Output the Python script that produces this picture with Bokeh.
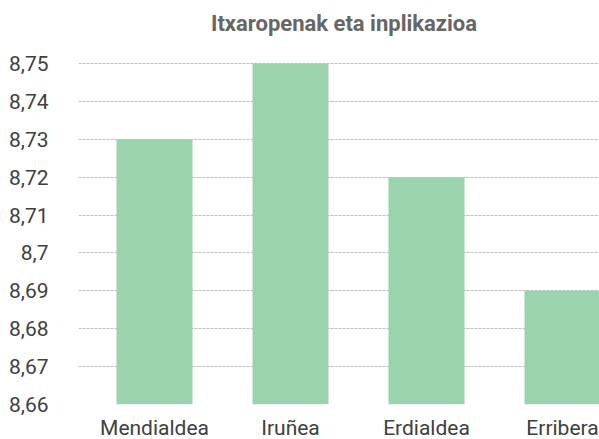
from bokeh.plotting import figure
from bokeh.models import Range1d, FixedTicker, CustomJSTickFormatter, Label
from bokeh.embed import file_html
from bokeh.resources import INLINE

title = "Itxaropenak eta inplikazioa"
categories = ["Mendialdea", "Iruñea", "Erdialdea", "Erribera"]
values = [8.73, 8.75, 8.72, 8.69]
y_ticks = [8.66, 8.67, 8.68, 8.69, 8.70, 8.71, 8.72, 8.73, 8.74, 8.75]
y_labels = ["8,66", "8,67", "8,68", "8,69", "8,7", "8,71", "8,72", "8,73", "8,74", "8,75"]

FONT = "Roboto"
positions = list(range(len(categories)))

# frame spans the whole top area so the title can sit inside it;
# 8.75 lands 63px below the top, 8.66 at the frame bottom
FRAME_H = 404
y_end = y_ticks[0] + (y_ticks[-1] - y_ticks[0]) * FRAME_H / (FRAME_H - 63)

p = figure(frame_width=521, frame_height=FRAME_H, output_backend="svg", toolbar_location=None,
           x_range=Range1d(-0.559, 3.272), y_range=Range1d(y_ticks[0], y_end),
           min_border_left=78, min_border_right=0, min_border_top=0, min_border_bottom=0)
p.outline_line_color = None
p.background_fill_color = "white"
p.border_fill_color = "white"

p.vbar(x=positions, top=values, bottom=y_ticks[0], width=0.559, fill_color="#9AD3AD", line_color=None)

p.xaxis.ticker = FixedTicker(ticks=positions)
p.xaxis.major_label_overrides = {i: c for i, c in enumerate(categories)}
p.yaxis.ticker = FixedTicker(ticks=y_ticks)
p.yaxis.formatter = CustomJSTickFormatter(args=dict(tv=y_ticks, tl=y_labels), code="""
for (let i = 0; i < tv.length; i++) { if (Math.abs(tv[i] - tick) < 1e-6) return tl[i]; }
return tick.toFixed(2).replace('.', ',');
""")
for ax in (p.xaxis[0], p.yaxis[0]):
    ax.axis_line_color = None
    ax.major_tick_line_color = None
    ax.minor_tick_line_color = None
    ax.major_tick_in = 0
    ax.major_tick_out = 0
    ax.minor_tick_in = 0
    ax.minor_tick_out = 0
    ax.major_label_text_font = FONT
    ax.major_label_text_font_size = "21px"
    ax.major_label_text_color = "#404040"
p.xaxis.major_label_standoff = 11
p.yaxis.major_label_standoff = 30
p.yaxis.major_label_text_align = "center"

p.xgrid.grid_line_color = None
p.ygrid.grid_line_color = "#BFBFBF"
p.ygrid.grid_line_dash = "3 1"
p.ygrid.grid_line_width = 1

p.add_layout(Label(x=265.5, y=FRAME_H - 23, x_units="screen", y_units="screen", text=title,
                   text_align="center", text_baseline="alphabetic", text_font=FONT,
                   text_font_size="22px", text_font_style="bold", text_color="#666666"))

open("out.html", "w").write(file_html(p, INLINE))
